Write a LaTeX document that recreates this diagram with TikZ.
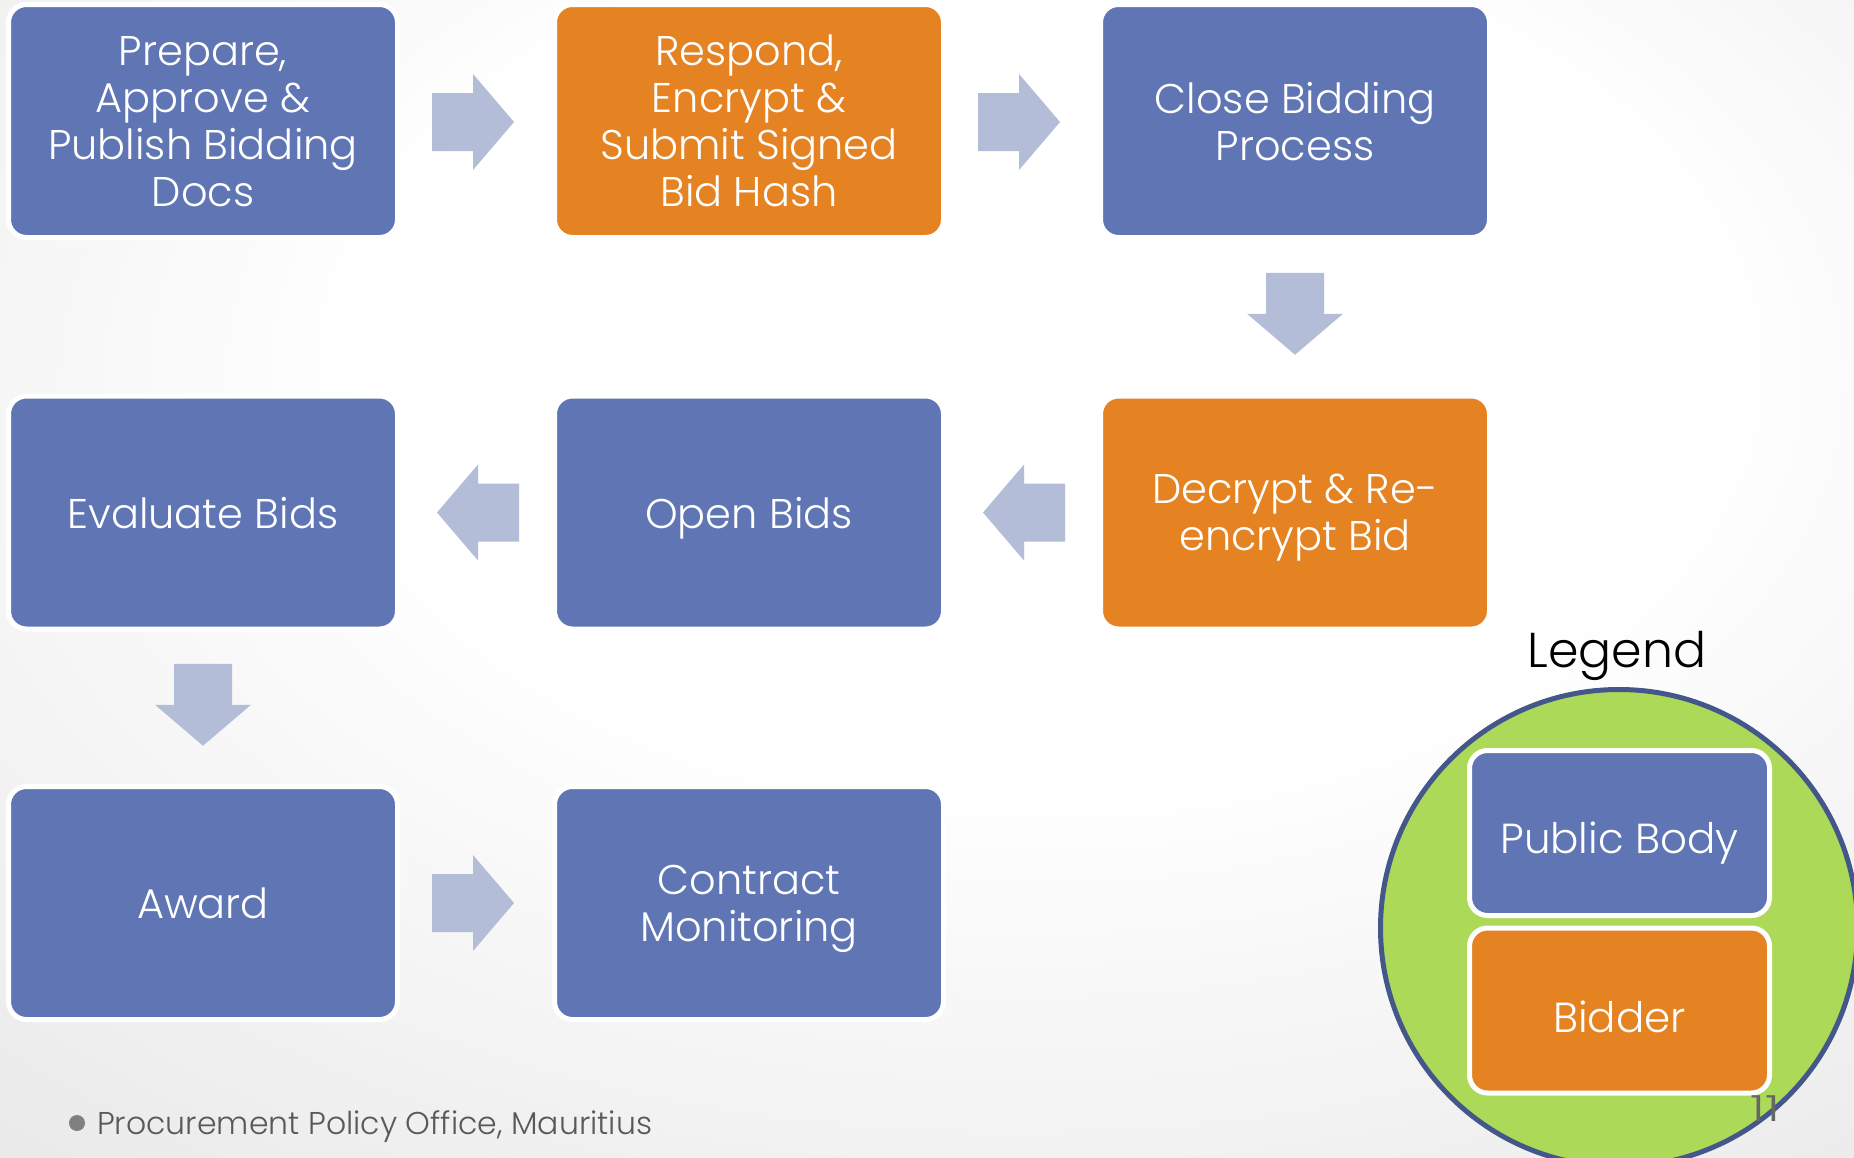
\documentclass[tikz,border=0pt]{standalone}
\usepackage{fontspec}
\setmainfont{Poppins Light}
\usetikzlibrary{calc}
\definecolor{pbblue}{RGB}{96,118,180}
\definecolor{bidorange}{RGB}{229,131,34}
\definecolor{arrowc}{RGB}{180,189,216}
\definecolor{legendgreen}{RGB}{173,217,88}
\definecolor{legendring}{RGB}{68,87,138}
\definecolor{footgray}{RGB}{89,89,89}
\pgfdeclareradialshading{bgshade}{\pgfpoint{4bp}{12bp}}{%
  color(0bp)=(white); color(18bp)=(white); color(48bp)=(black!11); color(80bp)=(black!21)}
\begin{document}
\begin{tikzpicture}[x=1pt,y=-1pt,
  stepbox/.style={draw=white, line width=5pt, rounded corners=18pt,
    minimum width=389pt, minimum height=233pt, inner sep=0pt, align=center,
    text depth=0pt, text=white, font=\fontsize{41.5}{47}\selectfont},
  pb/.style={stepbox, fill=pbblue},
  bd/.style={stepbox, fill=bidorange},
  legbox/.style={draw=white, line width=5pt, rounded corners=18pt,
    minimum width=300pt, minimum height=165pt, inner sep=0pt},
  legtext/.style={text=white, text depth=0pt, font=\fontsize{42}{46}\selectfont},
  blockarrow/.style={fill=arrowc}
]
% background
\shade[shading=bgshade] (0,0) rectangle (1854,1157);
\useasboundingbox (0,0) rectangle (1854,1157);

% boxes
\node[pb] (b1) at (203,121) {Prepare,\\Approve \&\\Publish Bidding\\Docs};
\node[bd] (b2) at (749,121) {Respond,\\Encrypt \&\\Submit Signed\\Bid Hash};
\node[pb] (b3) at (1295,121) {Close Bidding\\Process};
\node[bd] (b4) at (1295,512.5) {Decrypt \& Re-\\encrypt Bid};
\node[pb] (b5) at (749,512.5) {Open Bids};
\node[pb] (b6) at (203,512.5) {Evaluate Bids};
\node[pb] (b7) at (203,903) {Award};
\node[pb] (b8) at (749,903) {Contract\\Monitoring};

% block arrows
\coordinate (a12) at ($(b1.east)!0.5!(b2.west)+(-3,1)$);
\coordinate (a23) at ($(b2.east)!0.5!(b3.west)+(-3,1)$);
\coordinate (a34) at ($(b3.south)!0.5!(b4.north)+(0,-3)$);
\coordinate (a45) at ($(b4.west)!0.5!(b5.east)+(2,0)$);
\coordinate (a56) at ($(b5.west)!0.5!(b6.east)+(2,0)$);
\coordinate (a67) at ($(b6.south)!0.5!(b7.north)+(0,-3)$);
\coordinate (a78) at ($(b7.east)!0.5!(b8.west)+(-3,0)$);

\foreach \c in {a12,a23,a78}{
  \fill[blockarrow, shift={(\c)}] (-41,-29) -- (0,-29) -- (0,-48) -- (41,0)
    -- (0,48) -- (0,29) -- (-41,29) -- cycle;}
\foreach \c in {a45,a56}{
  \fill[blockarrow, shift={(\c)}] (41,-29) -- (0,-29) -- (0,-48) -- (-41,0)
    -- (0,48) -- (0,29) -- (41,29) -- cycle;}
\foreach \c in {a34,a67}{
  \fill[blockarrow, shift={(\c)}] (-29,-41) -- (29,-41) -- (29,0) -- (48,0)
    -- (0,41) -- (-48,0) -- (-29,0) -- cycle;}

% legend
\node[anchor=base, font=\fontsize{49}{52}\selectfont, text=black] (legt) at (1617,667) {Legend};
\node[circle, draw=legendring, fill=legendgreen, line width=5pt,
  minimum size=477pt, inner sep=0pt] (lc) at (1619,928) {};
\node[legbox, fill=pbblue] (lpb) at (1619.5,833) {};
\node[legbox, fill=bidorange] (lbd) at (1619.5,1010.5) {};
\node[legtext] at ($(lpb.center)+(0,5)$) {Public Body};
\node[legtext] at ($(lbd.center)+(0,6)$) {Bidder};

% footer
\fill[black!50] (77,1123) circle (8) coordinate (bul);
\node[anchor=base west, inner sep=0pt, text=footgray,
  font=\fontsize{31.5}{34}\selectfont] (foot) at (97,1134) {Procurement Policy Office, Mauritius};
\node[anchor=base, inner sep=0pt, text=black!60, xscale=1.4,
  font=\fontsize{36}{40}\selectfont] (pg) at (1765,1121) {11};
\end{tikzpicture}
\end{document}
